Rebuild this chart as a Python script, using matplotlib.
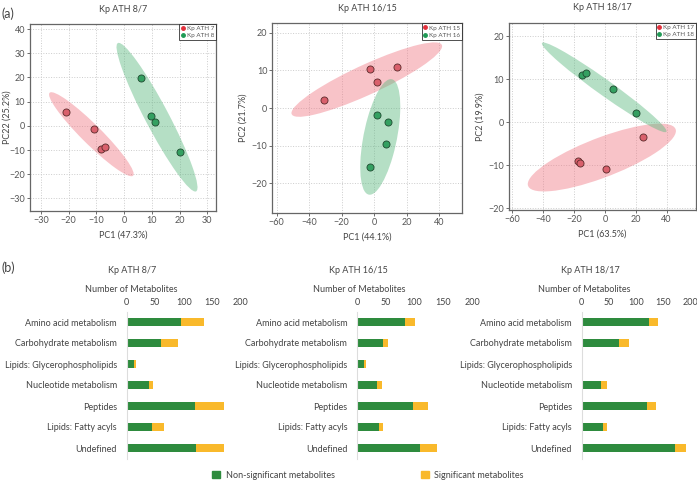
import numpy as np
import matplotlib
matplotlib.use("Agg")
import matplotlib.pyplot as plt
from matplotlib.patches import Ellipse, Patch
from matplotlib.lines import Line2D

plt.rcParams['font.family'] = ['Lato', 'DejaVu Sans']

# ---------------- PCA data ----------------
pca_titles = ["Kp ATH 8/7", "Kp ATH 16/15", "Kp ATH 18/17"]
pca_groups = [["Kp ATH 7", "Kp ATH 8"], ["Kp ATH 15", "Kp ATH 16"], ["Kp ATH 17", "Kp ATH 18"]]
pca_xlabels = ["PC1 (47.3%)", "PC1 (44.1%)", "PC1 (63.5%)"]
pca_ylabels = ["PC22 (25.2%)", "PC2 (21.7%)", "PC2 (19.9%)"]

p1_red_x = [-20.8, -11.0, -8.4, -7.0]
p1_red_y = [5.6, -1.25, -9.6, -8.6]
p1_green_x = [6.2, 9.7, 11.3, 20.2]
p1_green_y = [19.6, 4.0, 1.7, -11.0]

p2_red_x = [-30.9, -2.9, 1.6, 13.9]
p2_red_y = [2.1, 10.3, 6.9, 10.9]
p2_green_x = [1.8, 8.2, 7.4, -2.5]
p2_green_y = [-1.8, -3.7, -9.5, -15.7]

p3_red_x = [-17.3, -16.0, 0.4, 24.8]
p3_red_y = [-9.0, -9.4, -10.85, -3.5]
p3_green_x = [-15.1, -12.3, 5.2, 20.3]
p3_green_y = [11.0, 11.55, 7.8, 2.25]

pca_data = [
    ((p1_red_x, p1_red_y), (p1_green_x, p1_green_y)),
    ((p2_red_x, p2_red_y), (p2_green_x, p2_green_y)),
    ((p3_red_x, p3_red_y), (p3_green_x, p3_green_y)),
]
pca_xticks = [np.arange(-30, 31, 10), np.arange(-60, 41, 20), np.arange(-60, 41, 20)]
pca_yticks = [np.arange(-30, 41, 10), np.arange(-20, 21, 10), np.arange(-20, 21, 10)]
pca_xlims = [(-33.9, 33.1), (-62.7, 54.0), (-62.2, 59.0)]
pca_ylims = [(-35.2, 42.1), (-27.8, 22.5), (-20.4, 23.2)]

# ---------------- Bar data ----------------
categories = ["Amino acid metabolism", "Carbohydrate metabolism", "Lipids: Glycerophospholipids",
              "Nucleotide metabolism", "Peptides", "Lipids: Fatty acyls", "Undefined"]
bar_titles = ["Kp ATH 8/7", "Kp ATH 16/15", "Kp ATH 18/17"]
nonsig_87 = [95, 61, 13, 39, 120, 45, 122]
sig_87 = [40, 29, 3, 8, 50, 20, 49]
nonsig_1615 = [83, 45, 12, 35, 97, 38, 110]
sig_1615 = [18, 9, 3, 8, 26, 7, 29]
nonsig_1817 = [124, 68, 2, 36, 120, 40, 172]
sig_1817 = [16, 20, 1, 10, 17, 7, 20]
bar_data = [(nonsig_87, sig_87), (nonsig_1615, sig_1615), (nonsig_1817, sig_1817)]
bar_xticks = [0, 50, 100, 150, 200]

RED_PT = '#d9606c'
GREEN_PT = '#34a061'
RED_EL = '#f07a86'
GREEN_EL = '#5cb880'
BAR_GREEN = '#2e8b3e'
BAR_YELLOW = '#f9b92b'
TXT = '#444444'

W, H = 697, 480
fig = plt.figure(figsize=(W / 100, H / 100), dpi=100)

def fr(x0, y0, x1, y1):
    return [x0 / W, 1 - y1 / H, (x1 - x0) / W, (y1 - y0) / H]

pca_boxes = [fr(30, 24, 216, 211), fr(272.3, 23.3, 462, 212.7), fr(509, 22.7, 696, 210)]
ylabel_x = [-0.1, -0.13, -0.13]

def conf_ellipse(ax, xs, ys, color):
    xs = np.asarray(xs); ys = np.asarray(ys)
    cov = np.cov(xs, ys)
    vals, vecs = np.linalg.eigh(cov)
    order = vals.argsort()[::-1]
    vals, vecs = vals[order], vecs[:, order]
    angle = np.degrees(np.arctan2(vecs[1, 0], vecs[0, 0]))
    k = np.sqrt(5.991)
    e = Ellipse((xs.mean(), ys.mean()), 2 * k * np.sqrt(vals[0]), 2 * k * np.sqrt(vals[1]),
                angle=angle, facecolor=color, edgecolor='none', alpha=0.45, zorder=1)
    ax.add_patch(e)

for i in range(3):
    ax = fig.add_axes(pca_boxes[i])
    (rx, ry), (gx, gy) = pca_data[i]
    conf_ellipse(ax, rx, ry, RED_EL)
    conf_ellipse(ax, gx, gy, GREEN_EL)
    ax.scatter(rx, ry, s=26, c=RED_PT, edgecolors='#5a2a2a', linewidths=0.6, zorder=3)
    ax.scatter(gx, gy, s=26, c=GREEN_PT, edgecolors='#1f4a30', linewidths=0.6, zorder=3)
    ax.set_xlim(pca_xlims[i]); ax.set_ylim(pca_ylims[i])
    ax.set_xticks(pca_xticks[i]); ax.set_yticks(pca_yticks[i])
    ax.grid(True, linestyle=':', color='#cccccc', linewidth=0.7, zorder=0)
    ax.set_axisbelow(True)
    for s in ax.spines.values():
        s.set_color('#666666'); s.set_linewidth(0.9)
    ax.tick_params(labelsize=6.5, colors='#555555', length=2, width=0.6, pad=1.5)
    ax.set_xlabel(pca_xlabels[i], fontsize=6.5, color=TXT, labelpad=4)
    ax.set_ylabel(pca_ylabels[i], fontsize=6.5, color=TXT)
    ax.yaxis.set_label_coords(ylabel_x[i], 0.5)
    ax.set_title(pca_titles[i], fontsize=6.5, color=TXT, pad=9)
    handles = [Line2D([], [], marker='o', linestyle='none', markersize=2.5, color='#e2303c'),
               Line2D([], [], marker='o', linestyle='none', markersize=2.5, color='#1f9a55')]
    leg = ax.legend(handles, pca_groups[i], loc='upper right', fontsize=4.5, frameon=True,
                    fancybox=False, borderaxespad=0.0, handlelength=0.6, handletextpad=0.3,
                    borderpad=0.3, labelspacing=0.3)
    leg.get_frame().set_edgecolor('#222222'); leg.get_frame().set_linewidth(0.7)
    for t in leg.get_texts():
        t.set_color('#555555')

fig.text(2 / W, 1 - 14 / H, "(a)", fontsize=9, color=TXT, ha='left', va='center')
fig.text(2 / W, 1 - 268 / H, "(b)", fontsize=9, color=TXT, ha='left', va='center')

bar_boxes = [(126.7, 240.7), (357, 472), (581.7, 690)]
title_cx = [131.7, 358, 590.5]
label_cx = [130.8, 359, 584]
y_top, y_bot = 311.5, 458.5
for i in range(3):
    x0, x1 = bar_boxes[i]
    ax = fig.add_axes(fr(x0, y_top, x1, y_bot))
    ns, sg = bar_data[i]
    y = np.arange(len(categories))
    ax.barh(y, ns, height=0.38, color=BAR_GREEN, zorder=2)
    ax.barh(y, sg, left=ns, height=0.38, color=BAR_YELLOW, zorder=2)
    ax.set_ylim(len(categories) - 0.5, -0.5)
    ax.set_xlim(0, 200)
    ax.set_yticks(y)
    ax.set_yticklabels(categories)
    ax.set_xticks(bar_xticks)
    ax.xaxis.tick_top()
    ax.tick_params(axis='both', length=0, labelsize=6.5, colors=TXT)
    ax.tick_params(axis='x', pad=3)
    ax.tick_params(axis='y', pad=7)
    for k in ['top', 'right', 'bottom']:
        ax.spines[k].set_visible(False)
    ax.spines['left'].set_color('#dddddd'); ax.spines['left'].set_linewidth(0.8)
    fig.text(title_cx[i] / W, 1 - 270.5 / H, bar_titles[i], fontsize=6.5, color=TXT,
             ha='center', va='center')
    fig.text(label_cx[i] / W, 1 - 290 / H, "Number of Metabolites", fontsize=6.5, color=TXT,
             ha='center', va='center')

fig.legend([Patch(color=BAR_GREEN), Patch(color=BAR_YELLOW)],
           ["Non-significant metabolites", "Significant metabolites"],
           loc='center', bbox_to_anchor=(368 / W, 1 - 475 / H), ncol=2, frameon=False,
           fontsize=6.5, handlelength=0.9, handleheight=0.9, handletextpad=0.6,
           columnspacing=9.5, labelcolor=TXT)

fig.savefig("out.png", dpi=100)
